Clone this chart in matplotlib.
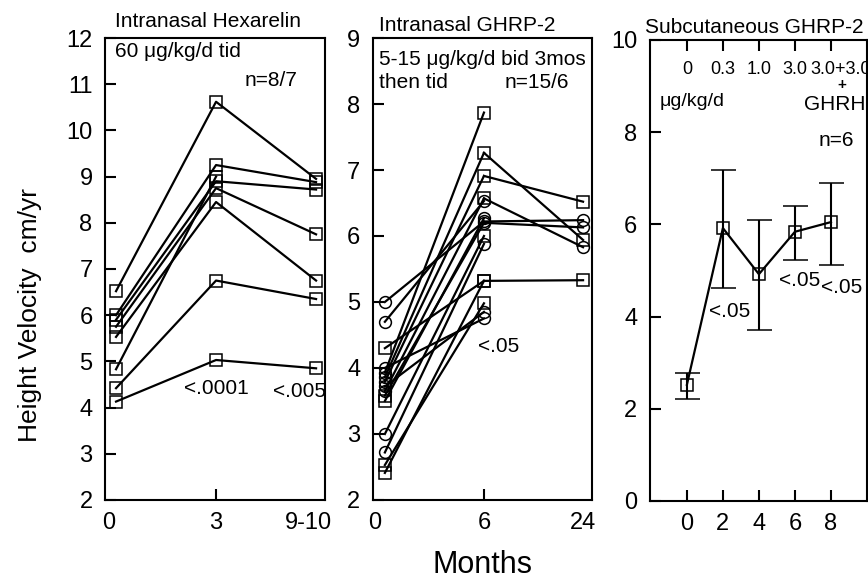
import numpy as np
import matplotlib
matplotlib.use('Agg')
import matplotlib.pyplot as plt

plt.rcParams['font.family'] = ['Liberation Sans', 'DejaVu Sans']

# panel 1: intranasal hexarelin (months 0, 3, 9-10)
hex_labels = ['0', '3', '9-10']
hex_0 = [6.52, 6.00, 5.90, 5.75, 5.53, 4.83, 4.42, 4.13]
hex_3 = [10.62, 9.25, 8.90, 8.75, 8.45, 9.00, 6.75, 5.03]
hex_910 = [8.95, 8.88, 8.72, 7.75, 6.75, np.nan, 6.35, 4.85]

# panel 2: intranasal GHRP-2 (months 0, 6, 24)
ghrp_labels = ['0', '6', '24']
ghrp_0 = [5.00, 4.70, 4.30, 4.00, 3.93, 3.86, 3.79, 3.72, 3.65, 3.58, 3.50, 3.00, 2.72, 2.53, 2.41]
ghrp_m0 = ['o', 'o', 's', 'o', 'o', 'o', 'o', 'o', 'o', 's', 's', 'o', 'o', 's', 's']
ghrp_6 = [6.22, 6.53, 5.32, 4.75, 7.87, 7.26, 6.91, 4.85, 6.57, 6.20, 6.27, 6.00, 5.88, 4.98, 5.32]
ghrp_m6 = ['o', 'o', 's', 'o', 's', 's', 's', 'o', 's', 'o', 'o', 's', 'o', 's', 's']
ghrp_24 = [6.24, np.nan, 5.33, np.nan, np.nan, 5.94, 6.52, np.nan, 5.83, 6.13,
           np.nan, np.nan, np.nan, np.nan, np.nan]
ghrp_m24 = ['o', '', 's', '', '', 's', 's', '', 'o', 'o', '', '', '', '', '']

# panel 3: subcutaneous GHRP-2, mean +/- error
sc_months = [0, 2, 4, 6, 8]
sc_dose = ['0', '0.3', '1.0', '3.0', '3.0+3.0']
sc_mean = [2.52, 5.92, 4.92, 5.84, 6.05]
sc_low = [2.21, 4.61, 3.71, 5.23, 5.12]
sc_high = [2.78, 7.19, 6.10, 6.40, 6.90]

fig = plt.figure(figsize=(8.68, 5.83), dpi=100)
ax1 = fig.add_axes([0.121, 0.1424, 0.2535, 0.7924])
ax2 = fig.add_axes([0.4297, 0.1424, 0.2523, 0.7924])
ax3 = fig.add_axes([0.7488, 0.1407, 0.2500, 0.7907])

mk = dict(mfc='none', mec='black', mew=1.1, ms=8.5, color='black', lw=1.6)
fs = 15

for ax in (ax1, ax2, ax3):
    for s in ax.spines.values():
        s.set_linewidth(1.5)
    ax.tick_params(direction='in', length=8, width=1.5, labelsize=17, pad=9)

# ---- panel 1
xpos = [0, 1, 2]
for a, b, c in zip(hex_0, hex_3, hex_910):
    ax1.plot(xpos, [a, b, c], marker='s', **mk)
ax1.set_xlim(-0.11, 2.09)
ax1.set_ylim(2, 12)
ax1.set_yticks(range(2, 13))
ax1.set_xticks([-0.07, 1, 1.92])
ax1.set_xticklabels(hex_labels)
for i in (0, 2):
    ax1.xaxis.get_major_ticks()[i].tick1line.set_visible(False)
ax1.text(0.47, 1.035, 'Intranasal Hexarelin', transform=ax1.transAxes,
         ha='center', va='center', fontsize=fs)
ax1.text(-0.01, 11.70, '60 μg/kg/d tid', fontsize=fs, va='center')
ax1.text(1.29, 11.09, 'n=8/7', fontsize=fs, va='center')
ax1.text(0.68, 4.42, '<.0001', fontsize=fs, va='center')
ax1.text(1.57, 4.34, '<.005', fontsize=fs, va='center')

# ---- panel 2
for i in range(len(ghrp_0)):
    ax2.plot([0, 1], [ghrp_0[i], ghrp_6[i]], color='black', lw=1.6)
    if not np.isnan(ghrp_24[i]):
        ax2.plot([1, 2], [ghrp_6[i], ghrp_24[i]], color='black', lw=1.6)
        ax2.plot(2, ghrp_24[i], marker=ghrp_m24[i], ls='none', **mk)
    ax2.plot(0, ghrp_0[i], marker=ghrp_m0[i], ls='none', **mk)
    ax2.plot(1, ghrp_6[i], marker=ghrp_m6[i], ls='none', **mk)
ax2.set_xlim(-0.12, 2.09)
ax2.set_ylim(2, 9)
ax2.set_yticks(range(2, 10))
ax2.set_xticks([-0.10, 1, 2.0])
ax2.set_xticklabels(ghrp_labels)
for i in (0, 2):
    ax2.xaxis.get_major_ticks()[i].tick1line.set_visible(False)
ax2.text(0.027, 1.028, 'Intranasal GHRP-2', transform=ax2.transAxes,
         ha='left', va='center', fontsize=fs)
ax2.text(-0.06, 8.67, '5-15 μg/kg/d bid 3mos', fontsize=fs, va='center')
ax2.text(-0.06, 8.32, 'then tid', fontsize=fs, va='center')
ax2.text(1.21, 8.32, 'n=15/6', fontsize=fs, va='center')
ax2.text(0.94, 4.33, '<.05', fontsize=fs, va='center')

# ---- panel 3
err = [np.subtract(sc_mean, sc_low), np.subtract(sc_high, sc_mean)]
ax3.errorbar(sc_months, sc_mean, yerr=err, capsize=9, elinewidth=1.5,
             capthick=1.5, marker='s', **mk)
ax3.set_xlim(-2.05, 10)
ax3.set_ylim(0, 10)
ax3.set_yticks(range(0, 11, 2))
ax3.set_xticks(sc_months)
ax3.tick_params(axis='x', top=True)
ax3.text(0.48, 1.028, 'Subcutaneous GHRP-2', transform=ax3.transAxes,
         ha='center', va='center', fontsize=fs)
for x, d in zip(sc_months[:4], sc_dose[:4]):
    ax3.text(x, 9.37, d, ha='center', va='center', fontsize=13)
ax3.text(6.85, 9.37, sc_dose[4], ha='left', va='center', fontsize=13, clip_on=False)
ax3.text(8.6, 9.03, '+', ha='center', va='center', fontsize=11, fontweight='bold')
ax3.text(8.2, 8.60, 'GHRH', ha='center', va='center', fontsize=fs)
ax3.text(-1.5, 8.66, 'μg/kg/d', ha='left', va='center', fontsize=14)
ax3.text(7.33, 7.83, 'n=6', ha='left', va='center', fontsize=fs)
ax3.text(1.22, 4.10, '<.05', ha='left', va='center', fontsize=fs)
ax3.text(5.11, 4.79, '<.05', ha='left', va='center', fontsize=fs)
ax3.text(7.44, 4.64, '<.05', ha='left', va='center', fontsize=fs)

fig.text(0.035, 0.46, 'Height Velocity  cm/yr', rotation=90, ha='center',
         va='center', fontsize=19)
fig.text(0.556, 0.031, 'Months', ha='center', va='center', fontsize=22)

fig.savefig('out.png', dpi=100)
